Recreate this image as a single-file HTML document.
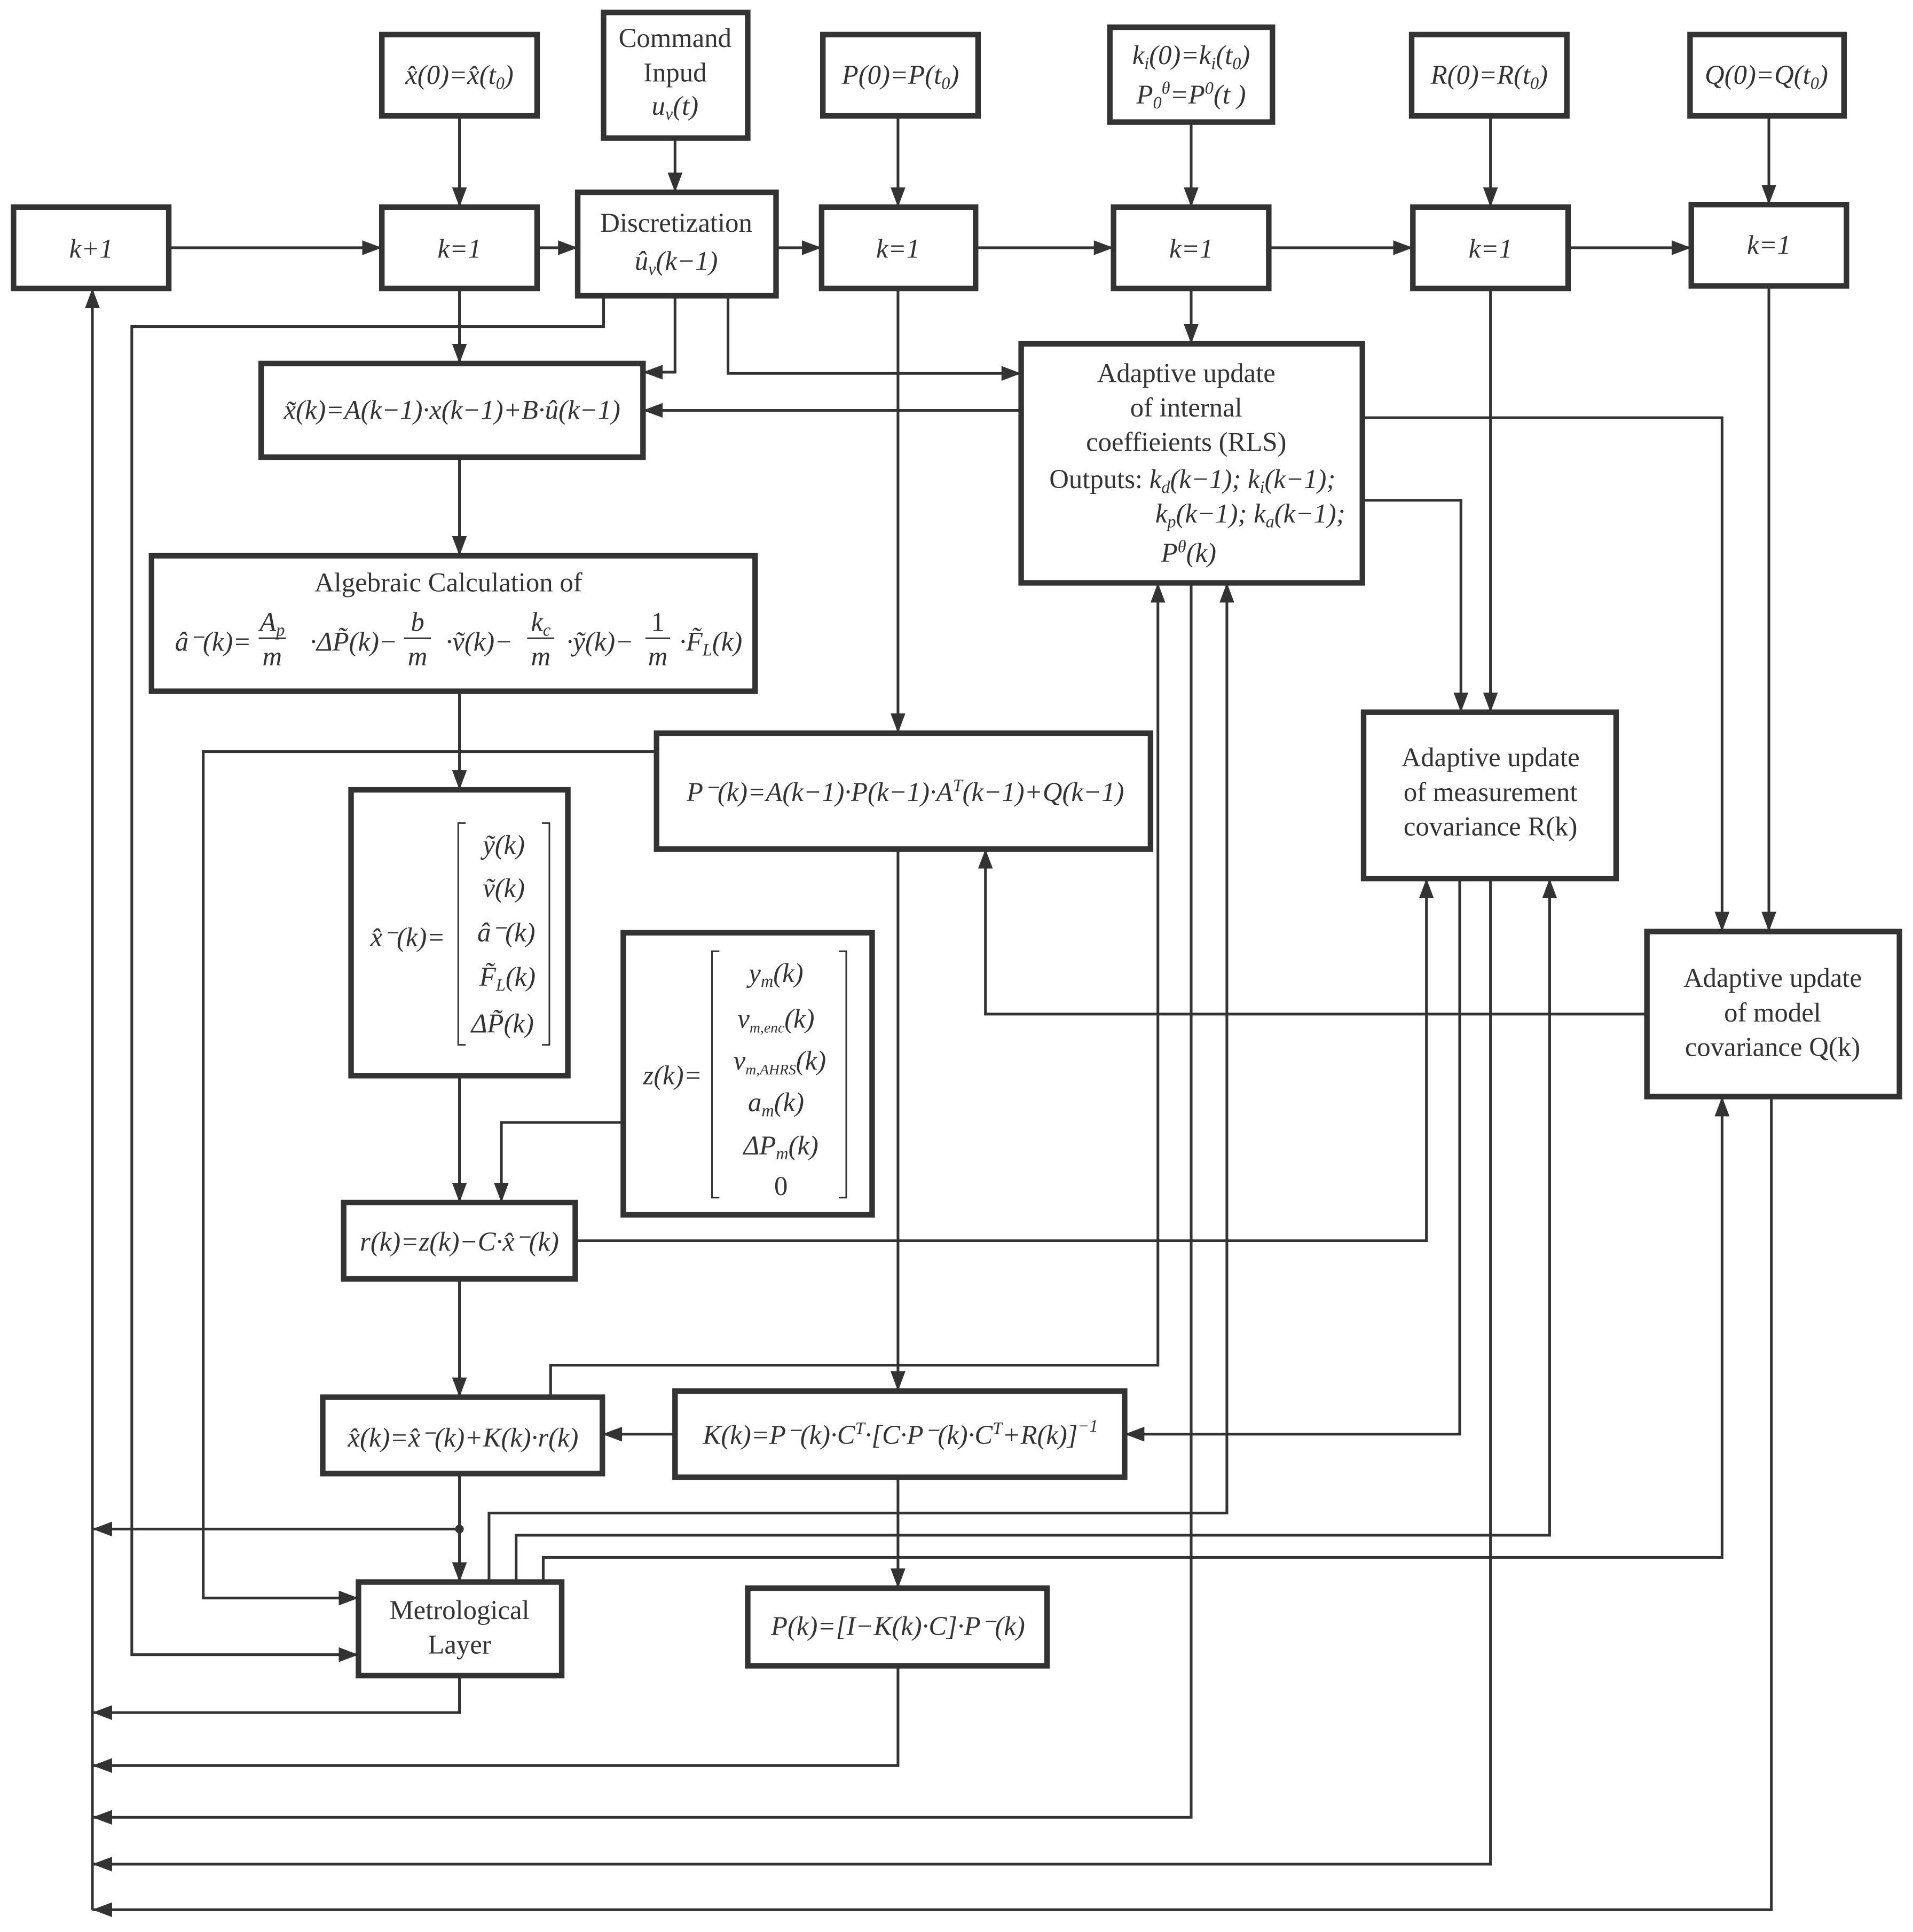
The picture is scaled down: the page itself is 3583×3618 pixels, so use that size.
<!DOCTYPE html>
<html><head><meta charset="utf-8"><style>html,body{margin:0;padding:0;background:#fff}svg{display:block}svg text{font-family:"Liberation Serif","Times New Roman",serif}</style></head><body>
<svg xmlns="http://www.w3.org/2000/svg" width="3583" height="3618" viewBox="0 0 1553 1568" style="font-family:'Liberation Serif',serif" font-size="22" fill="#333">
<defs>
<marker id="a" viewBox="0 0 16 12" refX="16" refY="6" markerWidth="16" markerHeight="12" markerUnits="userSpaceOnUse" orient="auto"><path d="M0,0 L16,6 L0,12 Z" fill="#333"/></marker>
</defs>
<g fill="#fff" stroke="#333" stroke-width="4.5">
<rect x="310" y="28" width="126" height="66"/>
<rect x="490" y="10" width="117" height="102"/>
<rect x="668" y="28" width="126" height="66"/>
<rect x="901" y="22" width="132" height="77"/>
<rect x="1146" y="28" width="126" height="66"/>
<rect x="1372" y="28" width="125" height="66"/>
<rect x="11" y="168" width="126" height="66"/>
<rect x="310" y="168" width="126" height="66"/>
<rect x="469" y="156" width="161" height="84"/>
<rect x="667" y="168" width="125" height="66"/>
<rect x="904" y="168" width="126" height="66"/>
<rect x="1147" y="168" width="126" height="66"/>
<rect x="1373" y="166" width="126" height="66"/>
<rect x="212" y="295" width="310" height="76"/>
<rect x="829" y="279" width="277" height="194"/>
<rect x="123" y="451" width="490" height="110"/>
<rect x="533" y="595" width="401" height="94"/>
<rect x="285" y="641" width="176" height="232"/>
<rect x="506" y="757" width="202" height="229"/>
<rect x="1107" y="578" width="205" height="135"/>
<rect x="1337" y="756" width="205" height="134"/>
<rect x="279" y="976" width="188" height="62"/>
<rect x="262" y="1134" width="227" height="62"/>
<rect x="548" y="1129" width="365" height="70"/>
<rect x="291" y="1284" width="165" height="76"/>
<rect x="607" y="1289" width="243" height="63"/>
</g>
<g fill="none" stroke="#333" stroke-width="2.2" marker-end="url(#a)">
<path d="M137,201H310"/><path d="M436,201H469"/><path d="M630,201H667"/><path d="M792,201H904"/><path d="M1030,201H1147"/><path d="M1273,201H1373"/>
<path d="M373,94V168"/><path d="M548,112V156"/><path d="M729,94V168"/><path d="M967,99V168"/><path d="M1210,94V168"/><path d="M1436,94V166"/>
<path d="M373,234V295"/><path d="M548,240V302H522"/><path d="M490,240V265H107V1343H291"/><path d="M591,240V303H829"/>
<path d="M967,234V279"/><path d="M829,333H522"/><path d="M729,234V595"/><path d="M373,371V451"/><path d="M373,561V641"/>
<path d="M533,610H165V1297H291"/><path d="M373,873V976"/><path d="M506,911H407V976"/><path d="M467,1007H1158V713"/>
<path d="M729,689V1129"/><path d="M373,1038V1134"/><path d="M447,1134V1108H940V473"/><path d="M548,1164H489"/>
<path d="M1185,713V1164H913"/><path d="M1106,406H1186V578"/><path d="M1210,234V578"/><path d="M1106,339H1398V756"/>
<path d="M1436,232V756"/><path d="M1337,823H800V689"/><path d="M373,1196V1284"/><path d="M373,1241H75"/>
<path d="M729,1199V1289"/><path d="M397,1284V1228H996V473"/><path d="M419,1284V1246H1258V713"/><path d="M441,1284V1264H1398V890"/>
<path d="M75,1550V234"/><path d="M373,1360V1390H75"/><path d="M729,1352V1433H75"/><path d="M967,473V1475H75"/>
<path d="M1210,713V1513H75"/><path d="M1438,890V1550H75"/>
</g>
<circle cx="373" cy="1241" r="3.5" fill="#333"/>
<g stroke="#333" stroke-width="1.3" fill="none">
<path d="M378,668h-6v180h6M440,668h6v180h-6"/>
<path d="M584,772h-6v200h6M681,772h6v200h-6"/>
<path d="M210,518h22M328,518h22M428,518h22M524,518h20"/>
</g>
<g text-anchor="middle">
<text x="373" y="68" font-style="italic">x̂(0)=x̂(t<tspan font-size="14" dy="4">0</tspan><tspan dy="-4">)</tspan></text>
<text x="548" y="38">Command</text><text x="548" y="66">Inpud</text><text x="548" y="93" font-style="italic">u<tspan font-size="14" dy="4">v</tspan><tspan dy="-4">(t)</tspan></text>
<text x="731" y="68" font-style="italic">P(0)=P(t<tspan font-size="14" dy="4">0</tspan><tspan dy="-4">)</tspan></text>
<text x="967" y="52" font-style="italic">k<tspan font-size="14" dy="4">i</tspan><tspan dy="-4">(0)=k</tspan><tspan font-size="14" dy="4">i</tspan><tspan dy="-4">(t</tspan><tspan font-size="14" dy="4">0</tspan><tspan dy="-4">)</tspan></text>
<text x="967" y="84" font-style="italic">P<tspan font-size="14" dy="4">0</tspan><tspan font-size="14" dy="-12">θ</tspan><tspan dy="8">=P</tspan><tspan font-size="14" dy="-8">0</tspan><tspan dy="8">(t )</tspan></text>
<text x="1209" y="68" font-style="italic">R(0)=R(t<tspan font-size="14" dy="4">0</tspan><tspan dy="-4">)</tspan></text>
<text x="1434" y="68" font-style="italic">Q(0)=Q(t<tspan font-size="14" dy="4">0</tspan><tspan dy="-4">)</tspan></text>
<text x="74" y="209" font-style="italic">k+1</text>
<text x="373" y="209" font-style="italic">k=1</text>
<text x="549" y="188">Discretization</text><text x="549" y="219" font-style="italic">û<tspan font-size="14" dy="4">v</tspan><tspan dy="-4">(k−1)</tspan></text>
<text x="729" y="209" font-style="italic">k=1</text><text x="967" y="209" font-style="italic">k=1</text><text x="1210" y="209" font-style="italic">k=1</text><text x="1436" y="206" font-style="italic">k=1</text>
<text x="367" y="340" font-style="italic">x̃(k)=A(k−1)·x(k−1)+B·û(k−1)</text>
<text x="963" y="310">Adaptive update</text><text x="963" y="338">of internal</text><text x="963" y="366">coeffieients (RLS)</text>
<text x="968" y="396">Outputs: <tspan font-style="italic">k<tspan font-size="14" dy="4">d</tspan><tspan dy="-4">(k−1); k</tspan><tspan font-size="14" dy="4">i</tspan><tspan dy="-4">(k−1);</tspan></tspan></text>
<text x="1015" y="424" font-style="italic">k<tspan font-size="14" dy="4">p</tspan><tspan dy="-4">(k−1); k</tspan><tspan font-size="14" dy="4">a</tspan><tspan dy="-4">(k−1);</tspan></text>
<text x="965" y="456" font-style="italic">P<tspan font-size="14" dy="-8">θ</tspan><tspan dy="8">(k)</tspan></text>
<text x="364" y="480">Algebraic Calculation of</text>
<text x="173" y="528" font-style="italic">â⁻(k)=</text>
<text x="221" y="512" font-style="italic">A<tspan font-size="14" dy="4">p</tspan></text><text x="221" y="540" font-style="italic">m</text>
<text x="287" y="528" font-style="italic">·ΔP̃(k)−</text>
<text x="339" y="512" font-style="italic">b</text><text x="339" y="540" font-style="italic">m</text>
<text x="389" y="528" font-style="italic">·ṽ(k)−</text>
<text x="439" y="512" font-style="italic">k<tspan font-size="14" dy="4">c</tspan></text><text x="439" y="540" font-style="italic">m</text>
<text x="487" y="528" font-style="italic">·ỹ(k)−</text>
<text x="534" y="512">1</text><text x="534" y="540" font-style="italic">m</text>
<text x="577" y="528" font-style="italic">·F̃<tspan font-size="14" dy="4">L</tspan><tspan dy="-4">(k)</tspan></text>
<text x="735" y="650" font-style="italic">P⁻(k)=A(k−1)·P(k−1)·A<tspan font-size="14" dy="-8">T</tspan><tspan dy="8">(k−1)+Q(k−1)</tspan></text>
<text x="331" y="768" font-style="italic">x̂⁻(k)=</text>
<g font-style="italic"><text x="409" y="693">ỹ(k)</text><text x="409" y="728">ṽ(k)</text><text x="411" y="764">â⁻(k)</text><text x="412" y="800">F̃<tspan font-size="14" dy="4">L</tspan><tspan dy="-4">(k)</tspan></text><text x="408" y="838">ΔP̃(k)</text></g>
<text x="546" y="880" font-style="italic">z(k)=</text>
<g font-style="italic"><text x="630" y="797">y<tspan font-size="14" dy="4">m</tspan><tspan dy="-4">(k)</tspan></text><text x="630" y="834">v<tspan font-size="12" dy="4">m,enc</tspan><tspan dy="-4">(k)</tspan></text><text x="633" y="868">v<tspan font-size="12" dy="4">m,AHRS</tspan><tspan dy="-4">(k)</tspan></text><text x="630" y="902">a<tspan font-size="14" dy="4">m</tspan><tspan dy="-4">(k)</tspan></text><text x="634" y="937">ΔP<tspan font-size="14" dy="4">m</tspan><tspan dy="-4">(k)</tspan></text></g><text x="634" y="970">0</text>
<text x="1210" y="622">Adaptive update</text><text x="1210" y="650">of measurement</text><text x="1210" y="678">covariance R(k)</text>
<text x="1439" y="801">Adaptive update</text><text x="1439" y="829">of model</text><text x="1439" y="857">covariance Q(k)</text>
<text x="373" y="1015" font-style="italic">r(k)=z(k)−C·x̂⁻(k)</text>
<text x="376" y="1174" font-style="italic">x̂(k)=x̂⁻(k)+K(k)·r(k)</text>
<text x="731" y="1172" font-style="italic">K(k)=P⁻(k)·C<tspan font-size="14" dy="-8">T</tspan><tspan dy="8">·[C·P⁻(k)·C</tspan><tspan font-size="14" dy="-8">T</tspan><tspan dy="8">+R(k)]</tspan><tspan font-size="14" dy="-10">−1</tspan></text>
<text x="373" y="1314">Metrological</text><text x="373" y="1342">Layer</text>
<text x="729" y="1327" font-style="italic">P(k)=[I−K(k)·C]·P⁻(k)</text>
</g>
</svg>
</body></html>
